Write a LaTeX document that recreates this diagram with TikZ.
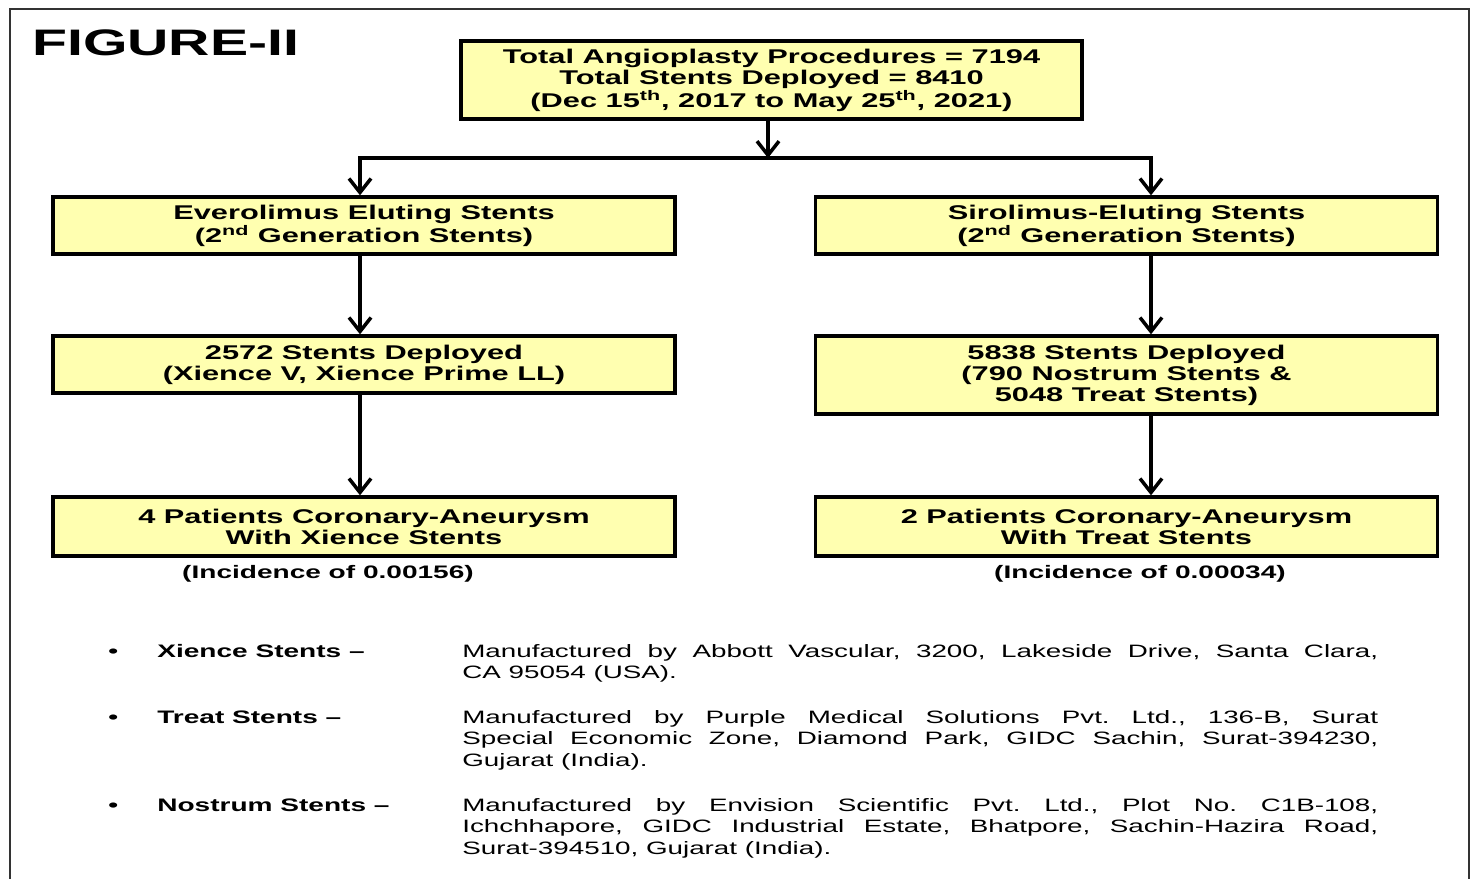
\documentclass[tikz,border=0pt]{standalone}
\usepackage{fontspec}
\setmainfont{Liberation Sans}[FakeStretch=1.55]
\usetikzlibrary{arrows.meta}
\definecolor{boxyellow}{HTML}{FFFFB0}
\definecolor{framegray}{HTML}{333333}
\frenchspacing

\begin{document}
\begin{tikzpicture}[
  x=0.02cm, y=-0.02cm,
  stentbox/.style={draw=black, line width=1.9pt, fill=boxyellow, align=center,
                   minimum width=12.44cm, inner sep=0pt,
                   font=\fontsize{11.3}{11.9}\selectfont\bfseries},
  flow/.style={line width=2pt, -{Straight Barb[length=2.8mm,width=4.4mm]}},
  incid/.style={inner sep=0pt, font=\fontsize{10.3}{12}\selectfont\bfseries},
  makerlbl/.style={inner sep=0pt, anchor=base west, font=\fontsize{10.3}{12}\selectfont\bfseries},
  maker/.style={inner sep=0pt, anchor=base west, text width=18.32cm, align=justify,
                font=\fontsize{10.2}{12.2}\selectfont},
]
\def\lx{364} \def\rx{1126.5}
\useasboundingbox (0,0) rectangle (1472,879);
\draw[line width=1.2pt, framegray] (10,879) -- (10,9) -- (1469,9) -- (1469,879);
\node[inner sep=0pt, anchor=base west, font=\fontsize{21}{24}\selectfont\bfseries] (title) at (32,55) {FIGURE-II};
% flow chart
\node[stentbox, minimum width=12.42cm, minimum height=1.56cm] (total) at (771.5,80)
  {Total Angioplasty Procedures = 7194\\Total Stents Deployed = 8410\\(Dec 15\textsuperscript{th}, 2017 to May 25\textsuperscript{th}, 2021)};
\node[stentbox, minimum height=1.14cm] (evero) at (\lx,225.5) {Everolimus Eluting Stents\\(2\textsuperscript{nd} Generation Stents)};
\node[stentbox, minimum height=1.14cm] (evdep) at (\lx,364.5) {2572 Stents Deployed\\(Xience V, Xience Prime LL)};
\node[stentbox, minimum height=1.18cm] (evpat) at (\lx,526.5) {4 Patients Coronary-Aneurysm\\With Xience Stents};
\node[stentbox, minimum height=1.14cm] (siro) at (\rx,225.5) {Sirolimus-Eluting Stents\\(2\textsuperscript{nd} Generation Stents)};
\node[stentbox, minimum height=1.56cm] (sidep) at (\rx,375) {5838 Stents Deployed\\(790 Nostrum Stents \&\\5048 Treat Stents)};
\node[stentbox, minimum height=1.18cm] (sipat) at (\rx,526.5) {2 Patients Coronary-Aneurysm\\With Treat Stents};
\coordinate (split) at (768,158);
\coordinate (lcol) at (360,158);
\coordinate (rcol) at (1151,158);
\draw[flow] (split |- total.south) -- (split);
\draw[flow] (split) -- (lcol) -- (lcol |- evero.north);
\draw[flow] (split) -- (rcol) -- (rcol |- siro.north);
\draw[flow] (lcol |- evero.south) -- (lcol |- evdep.north);
\draw[flow] (lcol |- evdep.south) -- (lcol |- evpat.north);
\draw[flow] (rcol |- siro.south) -- (rcol |- sidep.north);
\draw[flow] (rcol |- sidep.south) -- (rcol |- sipat.north);
\node[incid] (evinc) at (328,574) {(Incidence of 0.00156)};
\node[incid] (siinc) at (1140,574) {(Incidence of 0.00034)};
% manufacturers
\node[makerlbl] (xdot) at (108,657.5) {\textbullet};
\node[makerlbl] (xlbl) at (157,657.5) {Xience Stents --};
\node[maker] (xdesc) at (462,657.5) {Manufactured by Abbott Vascular, 3200, Lakeside Drive, Santa Clara,\linebreak CA 95054 (USA).};
\node[makerlbl] (tdot) at (108,723.5) {\textbullet};
\node[makerlbl] (tlbl) at (157,723.5) {Treat Stents --};
\node[maker] (tdesc) at (462,723.5) {Manufactured by Purple Medical Solutions Pvt. Ltd., 136-B, Surat\linebreak Special Economic Zone, Diamond Park, GIDC Sachin, Surat-394230,\linebreak Gujarat (India).};
\node[makerlbl] (ndot) at (108,811.5) {\textbullet};
\node[makerlbl] (nlbl) at (157,811.5) {Nostrum Stents --};
\node[maker] (ndesc) at (462,811.5) {Manufactured by Envision Scientific Pvt. Ltd., Plot No. C1B-108,\linebreak Ichchhapore, GIDC Industrial Estate, Bhatpore, Sachin-Hazira Road,\linebreak Surat-394510, Gujarat (India).};
\end{tikzpicture}
\end{document}
